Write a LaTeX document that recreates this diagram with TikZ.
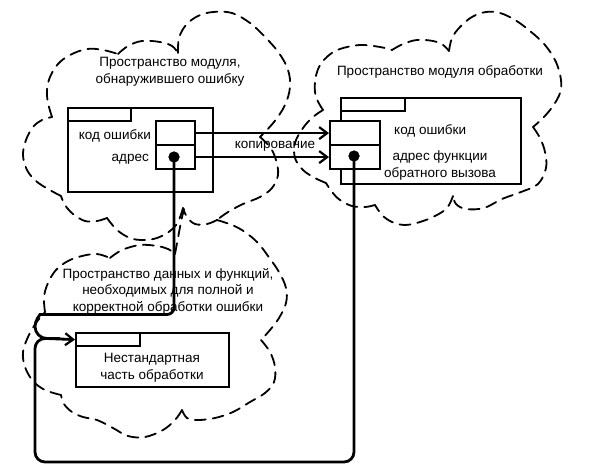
\documentclass[tikz,border=0pt]{standalone}
\usepackage{fontspec}
\setmainfont{Liberation Sans}
\usetikzlibrary{arrows.meta}

\begin{document}
\begin{tikzpicture}[x=1pt,y=-1pt,
  box/.style={draw,line width=2.2pt,fill=white,inner sep=0pt,anchor=north west},
  conn/.style={line width=2.8pt},
  cloudline/.style={line width=1.8pt,dash pattern=on 11pt off 7pt,line cap=round},
  lbl/.style={font=\fontsize{13.5}{16.5}\selectfont,inner sep=0pt,align=center},
  dot/.style={circle,fill=black,inner sep=0pt,minimum size=11pt},
  barb/.style={-{Straight Barb[length=8pt,width=12pt,line width=2.2pt]}}
]
\useasboundingbox (0,0) rectangle (597,476);

% ---- cloud: space of the module that detected the error ----
\draw[cloudline] plot[smooth,tension=0.6] coordinates {(52,117) (48,103) (47,90) (50,77) (58,64) (70,55) (87,49) (103,50) (118,54)};
\draw[cloudline] plot[smooth,tension=0.6] coordinates {(118,54) (128,46) (142,41) (160,42) (172,46) (178,53)};
\draw[cloudline] plot[smooth,tension=0.6] coordinates {(178,53) (179,38) (186,25) (198,16) (213,12) (232,13) (250,23) (265,37) (279,53) (288,70) (290,87) (285,105) (274,122) (260,137)};
\draw[cloudline] plot[smooth,tension=0.6] coordinates {(260,137) (270,147) (276,160) (278,175) (272,188) (260,197) (243,204) (228,212) (217,220)};
\draw[cloudline] plot[smooth,tension=0.6] coordinates {(217,220) (207,224) (195,224) (187,217) (183,208)};
\draw[cloudline] plot[smooth,tension=0.6] coordinates {(183,208) (178,222) (170,231) (157,238) (143,240) (130,238) (117,230) (107,218)};
\draw[cloudline] plot[smooth,tension=0.6] coordinates {(107,218) (97,221) (85,221) (73,214) (65,205) (61,196)};
\draw[cloudline] plot[smooth,tension=0.6] coordinates {(61,196) (48,189) (36,181) (27,170) (23,155) (26,140) (33,127) (42,120) (52,117)};

% ---- cloud: space of the handler module ----
\draw[cloudline] plot[smooth,tension=0.6] coordinates {(323,110) (316,97) (315,82) (319,67) (328,56) (340,49) (360,45) (380,47) (392,50)};
\draw[cloudline] plot[smooth,tension=0.6] coordinates {(392,50) (403,44) (417,40) (433,41) (443,45) (449,51)};
\draw[cloudline] plot[smooth,tension=0.6] coordinates {(449,51) (452,38) (460,27) (472,17) (486,12) (500,13) (515,20) (530,31) (545,45) (556,62) (561,80) (560,93) (553,106) (543,118) (533,127)};
\draw[cloudline] plot[smooth,tension=0.6] coordinates {(533,127) (540,138) (545,152) (546,168) (538,184) (521,192) (502,199) (484,208) (466,209) (456,204) (453,196)};
\draw[cloudline] plot[smooth,tension=0.6] coordinates {(453,196) (447,208) (435,216) (420,222) (405,225) (392,222) (382,215) (375,205)};
\draw[cloudline] plot[smooth,tension=0.6] coordinates {(375,205) (365,207) (352,206) (340,200) (332,192) (326,183)};
\draw[cloudline] plot[smooth,tension=0.6] coordinates {(326,183) (315,178) (303,170) (295,158) (295,143) (303,128) (313,117) (323,110)};

% ---- cloud: data and functions needed for error handling ----
\draw[cloudline] plot[smooth,tension=0.6] coordinates {(45,312) (44,297) (48,283) (56,270) (68,261) (82,256) (97,254) (110,258)};
\draw[cloudline] plot[smooth,tension=0.6] coordinates {(110,258) (122,250) (140,245) (157,246) (168,249) (175,254)};
\draw[cloudline] plot[smooth,tension=0.6] coordinates {(175,254) (178,238) (181,222) (184,209)};
\draw[cloudline] plot[smooth,tension=0.6] coordinates {(217,220) (232,225) (245,232) (258,243) (268,256) (279,272) (286,288) (286,303) (279,318) (270,330) (261,340)};
\draw[cloudline] plot[smooth,tension=0.6] coordinates {(261,340) (270,352) (275,367) (274,382) (265,393) (250,402) (233,412) (215,418) (198,420) (187,418) (182,410)};
\draw[cloudline] plot[smooth,tension=0.6] coordinates {(182,410) (175,420) (163,430) (145,437) (128,436) (113,428) (97,420) (83,417) (72,412) (64,404) (61,395)};
\draw[cloudline] plot[smooth,tension=0.6] coordinates {(61,395) (45,390) (33,381) (25,367) (23,352) (28,337) (36,323) (45,312)};

% ---- cloud captions ----
\node[lbl,font=\fontsize{13.5}{17.5}\selectfont] (capdet) at (170,72) {Пространство модуля,\\обнаружившего ошибку};
\node[lbl] (caphnd) at (440,72) {Пространство модуля обработки};
\node[lbl] (capdata) at (168,291) {Пространство данных и функций,\\необходимых для полной и\\корректной обработки ошибки};

% ---- detecting module ----
\node[box,minimum width=145pt,minimum height=84pt] (lmod) at (67,107) {};
\node[box,minimum width=63pt,minimum height=13pt] (ltab) at (67,107) {};
\node[box,minimum width=39pt,minimum height=24pt] (lc1) at (155,120) {};
\node[box,minimum width=39pt,minimum height=24pt] (lc2) at (155,144) {};
\node[lbl,anchor=base east] (lcode) at (151,140) {код ошибки};
\node[lbl,anchor=base east] (laddr) at (149,161.5) {адрес};

% ---- handler module ----
\node[box,minimum width=180pt,minimum height=86pt] (rmod) at (340,97) {};
\node[box,minimum width=64pt,minimum height=13pt] (rtab) at (340,97) {};
\node[box,minimum width=50pt,minimum height=24pt] (rc1) at (329,120) {};
\node[box,minimum width=50pt,minimum height=24pt] (rc2) at (329,144) {};
\node[lbl,anchor=base west] (rcode) at (394,135) {код ошибки};
\node[lbl] (raddr) at (440,165.5) {адрес функции\\обратного вызова};

% ---- non-standard part ----
\node[box,minimum width=153pt,minimum height=54pt] (nmod) at (75,332) {};
\node[box,minimum width=64pt,minimum height=13pt] (ntab) at (75,332) {};
\node[lbl] (ntext) at (152,368) {Нестандартная\\часть обработки};

% ---- copying arrows ----
\draw[conn,barb] (lc1.east) -- (rc1.west);
\draw[conn,barb] (lc2.east) -- (rc2.west);
\node[lbl,anchor=base] (copy) at (275,148.5) {копирование};

% ---- address links ----
\coordinate (uturn) at (47,314.5);
\coordinate (loopbl) at (35,462);
\coordinate (join) at (60,338.5);
\node[dot] (ldot) at (174,157) {};
\node[dot] (rdot) at (354,156) {};
\draw[conn,rounded corners=10pt] (rdot.center) |- (loopbl) |- (join);
\draw[conn,barb] (ldot.center) [rounded corners=7pt] |- (uturn) [sharp corners]
  arc[start angle=90,end angle=270,radius=12pt] -- (ntab.west);
\node[dot] at (ldot) {};
\node[dot] at (rdot) {};
\end{tikzpicture}
\end{document}
